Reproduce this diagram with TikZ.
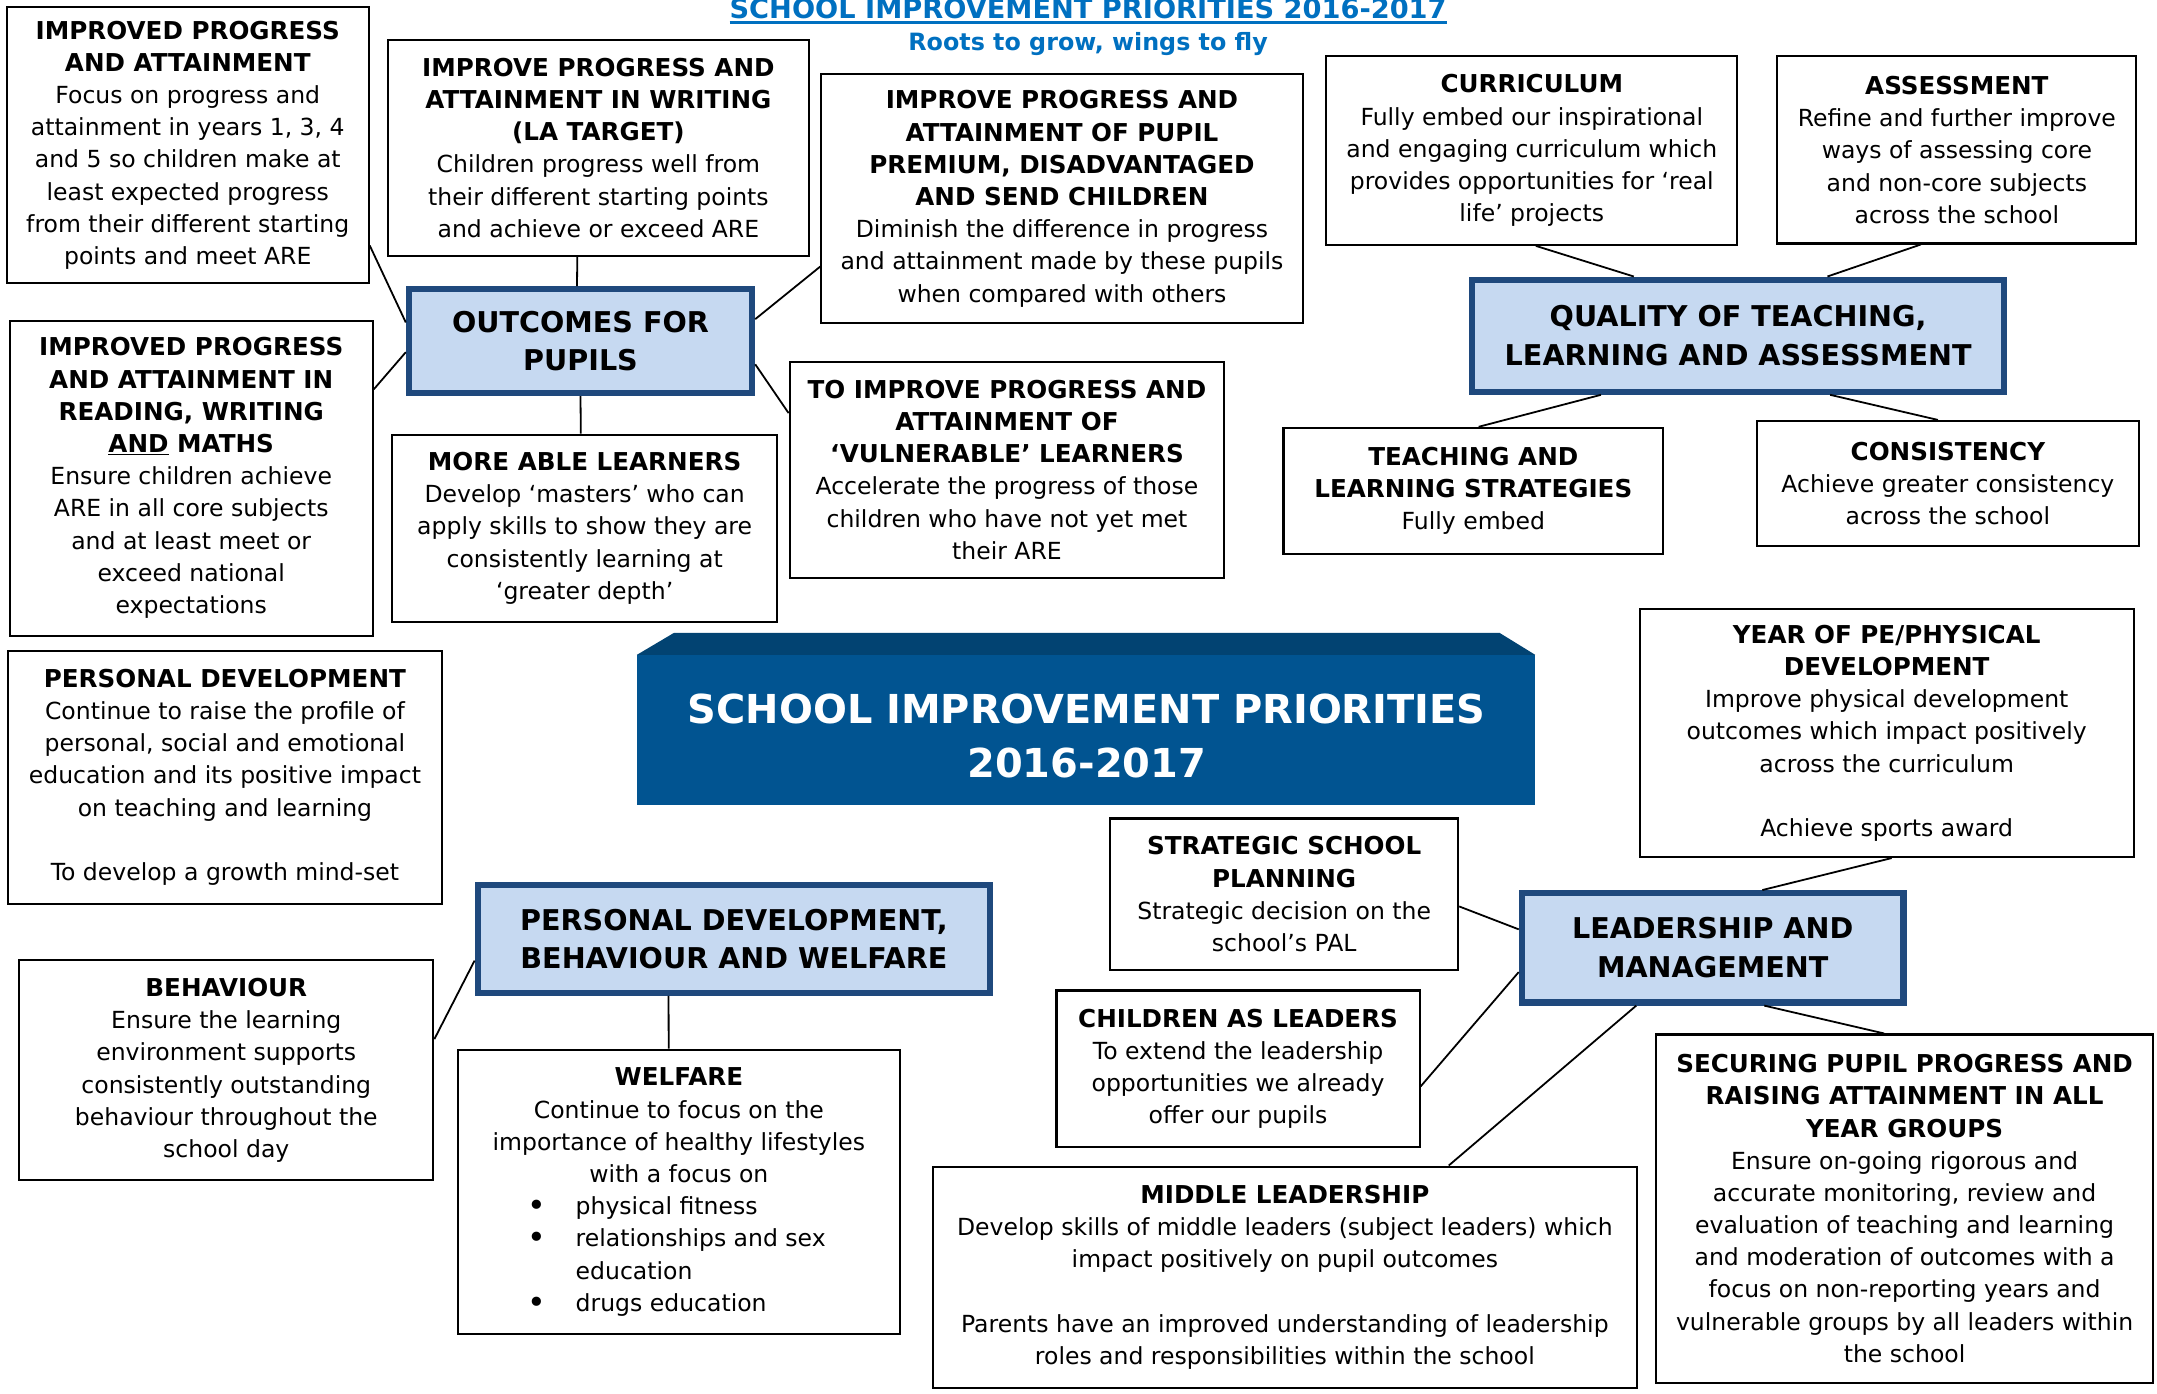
\documentclass[tikz,border=0pt]{standalone}
\usepackage{fontspec}
\setmainfont{DejaVu Sans}
\usetikzlibrary{calc}
\definecolor{headblue}{RGB}{31,73,125}
\definecolor{headfill}{RGB}{198,217,241}
\definecolor{mainblue}{RGB}{1,84,145}
\definecolor{maintop}{RGB}{2,67,114}
\definecolor{titleblue}{RGB}{0,112,192}
\newcommand{\bodyfont}{\fontsize{17.1}{23.4}\selectfont}
\newcommand{\headfont}{\fontsize{20.8}{28}\selectfont\bfseries}
\newcommand{\hd}[1]{{\fontsize{17.9}{23.4}\selectfont\bfseries #1}}
\newcommand{\thickul}[1]{\setbox0\hbox{#1}\rlap{\rule[-4pt]{\wd0}{2.2pt}}\box0}
\newcommand{\bul}[1]{\makebox[220pt][l]{\makebox[35pt][l]{\raisebox{-1.5pt}{\fontsize{23}{23.4}\selectfont\textbullet}}#1}}

\tikzset{
  infobox/.style={draw, line width=1.5pt, align=center, font=\bodyfont, inner sep=2pt},
  headbox/.style={draw=headblue, line width=4.5pt, fill=headfill, align=center, font=\headfont, inner sep=2pt},
  link/.style={line width=1.3pt},
}

\begin{document}
\begin{tikzpicture}[x=1pt,y=-1pt]
    \useasboundingbox (0,0) rectangle (1568,1013);
    \node[anchor=base, font=\fontsize{19.8}{22}\selectfont\bfseries, text=titleblue] (title) at (791,13.5) {\thickul{SCHOOL IMPROVEMENT PRIORITIES 2016-2017}};
    \node[anchor=base, font=\fontsize{17.3}{20}\selectfont\bfseries, text=titleblue] (motto) at (791,37) {Roots to grow, wings to fly};

    \fill[maintop] (463,476) -- (490,460) -- (1090,460) -- (1116,476) -- cycle;
    \fill[mainblue] (463,476) rectangle (1116,585);
    \node[font=\fontsize{29}{39}\selectfont\bfseries, text=white, align=center] (sip) at (790,535) {SCHOOL IMPROVEMENT PRIORITIES\\2016-2017};

    \node[headbox, minimum width=249.5pt, minimum height=75.5pt] (outcomes) at (422,248) {OUTCOMES FOR\\PUPILS};
    \node[headbox, minimum width=386.5pt, minimum height=81.5pt] (quality) at (1263.5,244) {QUALITY OF TEACHING,\\LEARNING AND ASSESSMENT};
    \node[headbox, minimum width=372.5pt, minimum height=78.5pt] (pdbw) at (533.5,682.5) {PERSONAL DEVELOPMENT,\\BEHAVIOUR AND WELFARE};
    \node[headbox, minimum width=277.5pt, minimum height=79.5pt] (leadership) at (1245,689) {LEADERSHIP AND\\MANAGEMENT};

    \node[infobox, minimum width=263pt, minimum height=201pt] (attain) at (136.5,105.5) {\hd{IMPROVED PROGRESS}\\\hd{AND ATTAINMENT}\\Focus on progress and\\attainment in years 1, 3, 4\\and 5 so children make at\\least expected progress\\from their different starting\\points and meet ARE};
    \node[infobox, minimum width=306pt, minimum height=157pt] (writing) at (435,107.5) {\hd{IMPROVE PROGRESS AND}\\\hd{ATTAINMENT IN WRITING}\\\hd{(LA TARGET)}\\Children progress well from\\their different starting points\\and achieve or exceed ARE};
    \node[infobox, minimum width=350pt, minimum height=181pt] (premium) at (772,144.5) {\hd{IMPROVE PROGRESS AND}\\\hd{ATTAINMENT OF PUPIL}\\\hd{PREMIUM, DISADVANTAGED}\\\hd{AND SEND CHILDREN}\\Diminish the difference in progress\\and attainment made by these pupils\\when compared with others};
    \node[infobox, minimum width=264pt, minimum height=229pt] (reading) at (139,347.5) {\hd{IMPROVED PROGRESS}\\\hd{AND ATTAINMENT IN}\\\hd{READING, WRITING}\\\hd{\underline{AND} MATHS}\\Ensure children achieve\\ARE in all core subjects\\and at least meet or\\exceed national\\expectations};
    \node[infobox, minimum width=280pt, minimum height=136pt] (able) at (425,384) {\hd{MORE ABLE LEARNERS}\\Develop ‘masters’ who can\\apply skills to show they are\\consistently learning at\\‘greater depth’};
    \node[infobox, minimum width=316pt, minimum height=157pt] (vulnerable) at (732,341.5) {\hd{TO IMPROVE PROGRESS AND}\\\hd{ATTAINMENT OF}\\\hd{‘VULNERABLE’ LEARNERS}\\Accelerate the progress of those\\children who have not yet met\\their ARE};

    \node[infobox, minimum width=299pt, minimum height=137pt] (curriculum) at (1113.5,109.5) {\hd{CURRICULUM}\\Fully embed our inspirational\\and engaging curriculum which\\provides opportunities for ‘real\\life’ projects};
    \node[infobox, minimum width=261pt, minimum height=136pt] (assessment) at (1422.5,109) {\hd{ASSESSMENT}\\Refine and further improve\\ways of assessing core\\and non-core subjects\\across the school};
    \node[infobox, minimum width=276pt, minimum height=92pt] (strategies) at (1071,357) {\hd{TEACHING AND}\\\hd{LEARNING STRATEGIES}\\Fully embed};
    \node[infobox, minimum width=278pt, minimum height=91pt] (consistency) at (1416,351.5) {\hd{CONSISTENCY}\\Achieve greater consistency\\across the school};

    \node[infobox, minimum width=315pt, minimum height=184pt] (personal) at (163.5,565) {\hd{PERSONAL DEVELOPMENT}\\Continue to raise the profile of\\personal, social and emotional\\education and its positive impact\\on teaching and learning\\[23.4pt]To develop a growth mind-set};
    \node[infobox, minimum width=301pt, minimum height=160pt] (behaviour) at (164.5,778) {\hd{BEHAVIOUR}\\Ensure the learning\\environment supports\\consistently outstanding\\behaviour throughout the\\school day};
    \node[infobox, minimum width=321pt, minimum height=207pt] (welfare) at (493.5,866.5) {\hd{WELFARE}\\Continue to focus on the\\importance of healthy lifestyles\\with a focus on\\\bul{physical fitness}\\\bul{relationships and sex}\\\makebox[220pt][l]{\hspace{35pt}education}\\\bul{drugs education}};

    \node[infobox, minimum width=359pt, minimum height=180pt] (pe) at (1371.5,533) {\hd{YEAR OF PE/PHYSICAL}\\\hd{DEVELOPMENT}\\Improve physical development\\outcomes which impact positively\\across the curriculum\\[23.4pt]Achieve sports award};
    \node[infobox, minimum width=253pt, minimum height=110pt] (planning) at (933.5,650) {\hd{STRATEGIC SCHOOL}\\\hd{PLANNING}\\Strategic decision on the\\school’s PAL};
    \node[infobox, minimum width=264pt, minimum height=114pt] (children) at (900,777) {\hd{CHILDREN AS LEADERS}\\To extend the leadership\\opportunities we already\\offer our pupils};
    \node[infobox, minimum width=512pt, minimum height=161pt] (middle) at (934,928.5) {\hd{MIDDLE LEADERSHIP}\\Develop skills of middle leaders (subject leaders) which\\impact positively on pupil outcomes\\[23.4pt]Parents have an improved understanding of leadership\\roles and responsibilities within the school};
    \node[infobox, minimum width=361pt, minimum height=253pt] (securing) at (1384.5,878.5) {\hd{SECURING PUPIL PROGRESS AND}\\\hd{RAISING ATTAINMENT IN ALL}\\\hd{YEAR GROUPS}\\Ensure on-going rigorous and\\accurate monitoring, review and\\evaluation of teaching and learning\\and moderation of outcomes with a\\focus on non-reporting years and\\vulnerable groups by all leaders within\\the school};

    \draw[link] ($(attain.north east)!0.86!(attain.south east)$) -- ($(outcomes.north west)!0.33!(outcomes.south west)$);
    \draw[link] ($(reading.north east)!0.22!(reading.south east)$) -- ($(outcomes.north west)!0.6!(outcomes.south west)$);
    \draw[link] ($(writing.south west)!0.45!(writing.south east)$) -- ($(outcomes.north west)!0.49!(outcomes.north east)$);
    \draw[link] ($(premium.north west)!0.77!(premium.south west)$) -- ($(outcomes.north east)!0.3!(outcomes.south east)$);
    \draw[link] ($(vulnerable.north west)!0.24!(vulnerable.south west)$) -- ($(outcomes.north east)!0.71!(outcomes.south east)$);
    \draw[link] ($(able.north west)!0.49!(able.north east)$) -- ($(outcomes.south west)!0.5!(outcomes.south east)$);

    \draw[link] ($(curriculum.south west)!0.51!(curriculum.south east)$) -- ($(quality.north west)!0.306!(quality.north east)$);
    \draw[link] ($(assessment.south west)!0.4!(assessment.south east)$) -- ($(quality.north west)!0.666!(quality.north east)$);
    \draw[link] ($(strategies.north west)!0.514!(strategies.north east)$) -- ($(quality.south west)!0.245!(quality.south east)$);
    \draw[link] ($(consistency.north west)!0.474!(consistency.north east)$) -- ($(quality.south west)!0.671!(quality.south east)$);

    \draw[link] ($(behaviour.north east)!0.36!(behaviour.south east)$) -- ($(pdbw.north west)!0.69!(pdbw.south west)$);
    \draw[link] ($(welfare.north west)!0.477!(welfare.north east)$) -- ($(pdbw.south west)!0.374!(pdbw.south east)$);

    \draw[link] ($(pe.south west)!0.51!(pe.south east)$) -- ($(leadership.north west)!0.628!(leadership.north east)$);
    \draw[link] ($(planning.north east)!0.58!(planning.south east)$) -- ($(leadership.north west)!0.34!(leadership.south west)$);
    \draw[link] ($(children.north east)!0.61!(children.south east)$) -- ($(leadership.north west)!0.71!(leadership.south west)$);
    \draw[link] ($(middle.north west)!0.732!(middle.north east)$) -- ($(leadership.south west)!0.303!(leadership.south east)$);
    \draw[link] ($(securing.north west)!0.459!(securing.north east)$) -- ($(leadership.south west)!0.633!(leadership.south east)$);
\end{tikzpicture}
\end{document}
